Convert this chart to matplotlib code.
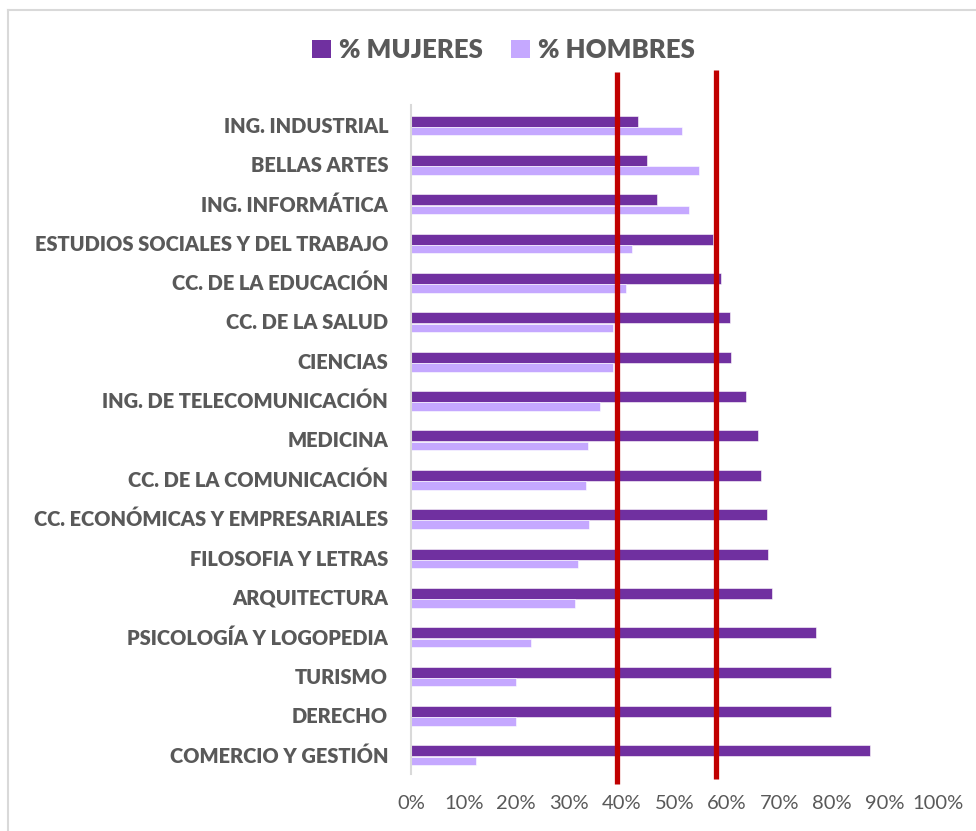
import matplotlib
matplotlib.use("Agg")
import matplotlib.pyplot as plt
from matplotlib.lines import Line2D
from matplotlib.patches import Patch
from matplotlib.ticker import FuncFormatter

categories = [
    "ING. INDUSTRIAL", "BELLAS ARTES", "ING. INFORMÁTICA",
    "ESTUDIOS SOCIALES Y DEL TRABAJO", "CC. DE LA EDUCACIÓN", "CC. DE LA SALUD",
    "CIENCIAS", "ING. DE TELECOMUNICACIÓN", "MEDICINA", "CC. DE LA COMUNICACIÓN",
    "CC. ECONÓMICAS Y EMPRESARIALES", "FILOSOFIA Y LETRAS", "ARQUITECTURA",
    "PSICOLOGÍA Y LOGOPEDIA", "TURISMO", "DERECHO", "COMERCIO Y GESTIÓN",
]
mujeres = [43.2, 44.9, 46.8, 57.4, 58.8, 60.5, 60.8, 63.7, 66.0, 66.5,
           67.7, 67.9, 68.6, 76.9, 79.7, 79.7, 87.2]
hombres = [51.5, 54.7, 52.8, 42.0, 40.8, 38.3, 38.3, 35.9, 33.6, 33.2,
           33.9, 31.7, 31.1, 22.7, 19.9, 19.9, 12.4]
ref_lines = [39.2, 58.0]
xticks = list(range(0, 101, 10))

C_M = "#7030A0"
C_H = "#C5A8FF"
C_RED = "#C00000"
C_TXT = "#595959"
FONT = "Lato"

W, H = 976, 831
fig = plt.figure(figsize=(W / 100, H / 100), dpi=100)
ax = fig.add_axes([411 / W, 1 - 774 / H, (937.5 - 411) / W, (774 - 105) / H])

ys = list(range(len(categories)))
ax.barh([y - 0.09 for y in ys], mujeres, height=0.28, color=C_M,
        edgecolor="white", linewidth=0.4, zorder=2)
ax.barh([y + 0.165 for y in ys], hombres, height=0.215, color=C_H,
        edgecolor="white", linewidth=0.4, zorder=2)

ax.set_xlim(0, 100)
ax.set_ylim(len(categories) - 0.5, -0.5)
ax.set_xticks(xticks)
ax.xaxis.set_major_formatter(FuncFormatter(lambda v, p: f"{int(v)}%"))
ax.set_yticks(ys)
ax.set_yticklabels(categories)
for lab in ax.get_yticklabels():
    lab.set_fontfamily(FONT)
    lab.set_fontweight("heavy")
    lab.set_fontsize(14.4)
    lab.set_color(C_TXT)
for lab in ax.get_xticklabels():
    lab.set_fontfamily(FONT)
    lab.set_fontsize(14.5)
    lab.set_color(C_TXT)
ax.tick_params(axis="y", length=0, pad=16.5)
ax.tick_params(axis="x", length=0, pad=15)
for s in ["top", "right", "bottom"]:
    ax.spines[s].set_visible(False)
ax.spines["left"].set_color("#D9D9D9")
ax.spines["left"].set_linewidth(1.5)

# red reference lines extending beyond the plot area
ax.plot([ref_lines[0]] * 2, [-1.34, 16.75], color=C_RED, lw=3.8,
        clip_on=False, zorder=5, solid_capstyle="butt")
ax.plot([ref_lines[1]] * 2, [-1.39, 16.62], color=C_RED, lw=3.8,
        clip_on=False, zorder=5, solid_capstyle="butt")

handles = [Patch(facecolor=C_M, label="% MUJERES"),
           Patch(facecolor=C_H, label="% HOMBRES")]
leg = fig.legend(handles=handles, loc="center", ncol=2, frameon=False,
                 bbox_to_anchor=(503.5 / W, 1 - 50 / H),
                 prop={"family": FONT, "weight": "heavy", "size": 18.5},
                 handlelength=0.75, handleheight=0.75, handletextpad=0.3,
                 columnspacing=1.1)
for t in leg.get_texts():
    t.set_color(C_TXT)

# outer chart border
fig.add_artist(Line2D([8 / W, 1], [1 - 10 / H, 1 - 10 / H], color="#D9D9D9",
                      lw=1.5, transform=fig.transFigure))
fig.add_artist(Line2D([8 / W, 8 / W], [1 - 10 / H, 0], color="#D9D9D9",
                      lw=1.5, transform=fig.transFigure))

fig.savefig("out.png", dpi=100, facecolor="white")
